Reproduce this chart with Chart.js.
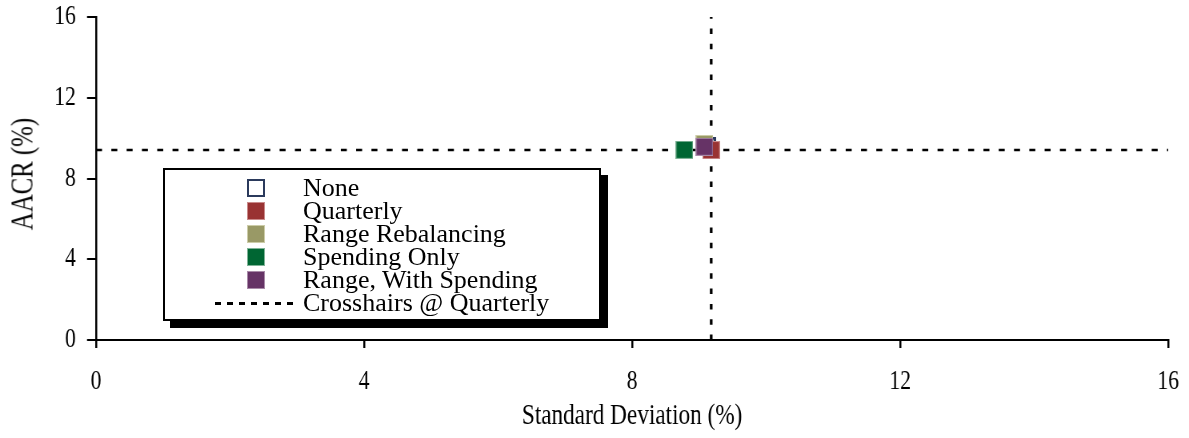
<!DOCTYPE html>
<html>
<head>
<meta charset="utf-8">
<script src="https://cdn.jsdelivr.net/npm/chart.js@4/dist/chart.umd.min.js"></script>
<style>
  body { margin: 0; background: #fff; overflow: hidden; }
  #wrap { position: relative; width: 1189px; height: 438px; overflow: hidden; }
  #ytitle {
    position: absolute; left: 22px; top: 174px; white-space: nowrap;
    font-family: "Liberation Serif", serif; font-size: 31px; line-height: 1;
    transform: translate(-50%, -50%) rotate(-90deg) scaleX(0.8);
  }
  #legend {
    position: absolute; left: 163px; top: 168px; width: 434px; height: 149px;
    border: 2px solid #000; background: #fff; box-shadow: 7px 7px 0 #000;
    font-family: "Liberation Serif", serif; font-size: 26px;
  }
  .row { position: absolute; left: 0; height: 23px; line-height: 23px; white-space: nowrap; }
  .row span.txt { position: absolute; left: 138px; top: 0; }
  .mk { position: absolute; left: 82px; top: 3px; width: 18px; height: 18px; box-sizing: border-box; }
  .dash { position: absolute; left: 50px; top: 11px; width: 84px; height: 3px;
          background: repeating-linear-gradient(to right, #000 0 6px, transparent 6px 12px); }
</style>
</head>
<body>
<div id="wrap">
  <!-- drawn wider and squeezed, so the Times text comes out tall and narrow like the picture -->
  <canvas id="myChart" width="1486" height="438" style="width:1189px;height:438px"></canvas>
  <div id="ytitle">AACR (%)</div>
  <div id="legend"></div>
</div>
<script>
// values
const seriesNames = ['None', 'Quarterly', 'Range Rebalancing', 'Spending Only', 'Range, With Spending'];
const stdDev = [9.12, 9.18, 9.08, 8.78, 9.08];
const aacr = [9.60, 9.41, 9.71, 9.42, 9.57];
const axisTicks = [0, 4, 8, 12, 16];
const crossLabel = 'Crosshairs @ Quarterly';

const fills = ['#ffffff', '#993333', '#999966', '#006633', '#663366'];
const edges = ['#2b3a5c', '#c98a8a', '#cccca8', '#7fb397', '#a88aa8'];
const edgeW = [2.5, 1, 1, 1, 1];
const drawOrder = [4, 3, 2, 1, 0];

const SX = 1486 / 1189; // horizontal squeeze of the canvas

const tickFont = { family: '"Liberation Serif", serif', size: 27 };
const titleFont = { family: '"Liberation Serif", serif', size: 29 };

// crosshairs sit on the Quarterly point
const crossX = stdDev[1];
const crossY = aacr[1];

// square marker, pre-stretched so it ends up square after the squeeze
function makeMarker(fill, edge, w) {
  const c = document.createElement('canvas');
  c.width = Math.round(18 * SX);
  c.height = 18;
  const ctx = c.getContext('2d');
  ctx.scale(c.width / 18, 1);
  ctx.fillStyle = fill;
  ctx.fillRect(0, 0, 18, 18);
  ctx.strokeStyle = edge;
  ctx.lineWidth = w;
  ctx.strokeRect(w / 2, w / 2, 18 - w, 18 - w);
  return c;
}

let datasets = [];
for (let i = 0; i < seriesNames.length; i++) {
  datasets.push({
    type: 'scatter',
    label: seriesNames[i],
    data: [{ x: stdDev[i], y: aacr[i] }],
    pointStyle: makeMarker(fills[i], edges[i], edgeW[i]),
    order: drawOrder[i]
  });
}
datasets.push({
  type: 'line', label: crossLabel,
  data: [{ x: axisTicks[0], y: crossY }, { x: axisTicks[axisTicks.length - 1], y: crossY }],
  borderColor: '#000', borderWidth: 2.6, borderDash: [6 * SX, 9.3 * SX], pointRadius: 0, order: 10
});
datasets.push({
  type: 'line', label: crossLabel,
  data: [{ x: crossX, y: axisTicks[0] }, { x: crossX, y: axisTicks[axisTicks.length - 1] }],
  borderColor: '#000', borderWidth: 2.7 * SX, borderDash: [5.5, 9.8], pointRadius: 0, order: 10
});

const myChart = new Chart(document.getElementById('myChart'), {
  data: { datasets: datasets },
  options: {
    responsive: false,
    animation: false,
    layout: { padding: { left: 0, right: 26, top: 17, bottom: 0 } },
    plugins: { legend: { display: false }, tooltip: { enabled: false } },
    scales: {
      x: {
        type: 'linear', min: 0, max: 16,
        afterBuildTicks: (s) => { s.ticks = axisTicks.map(v => ({ value: v })); },
        afterFit: (s) => { s.height = 98; s.paddingLeft = 0; s.paddingRight = 0; },
        border: { color: '#000', width: 2 },
        grid: { drawOnChartArea: false, drawTicks: true, tickLength: 8, color: '#000', lineWidth: 2 * SX },
        ticks: { color: '#000', font: tickFont, padding: 18, maxRotation: 0 },
        title: { display: true, text: 'Standard Deviation (%)', color: '#000', font: titleFont, padding: { top: 0, bottom: 4 } }
      },
      y: {
        type: 'linear', min: 0, max: 16,
        afterBuildTicks: (s) => { s.ticks = axisTicks.map(v => ({ value: v })); },
        afterFit: (s) => { s.width = 96 * SX; s.paddingTop = 0; s.paddingBottom = 0; },
        border: { color: '#000', width: 2 * SX },
        grid: { drawOnChartArea: false, drawTicks: true, tickLength: 9 * SX, color: '#000', lineWidth: 2 },
        ticks: { color: '#000', font: tickFont, padding: 14 }
      }
    }
  }
});

// legend box with drop shadow
const legendDiv = document.getElementById('legend');
for (let i = 0; i < seriesNames.length; i++) {
  legendDiv.innerHTML += `
    <div class="row" style="top:${6 + i * 23}px">
      <div class="mk" style="background:${fills[i]};border:${edgeW[i]}px solid ${edges[i]}"></div>
      <span class="txt">${seriesNames[i]}</span>
    </div>`;
}
legendDiv.innerHTML += `
  <div class="row" style="top:${6 + seriesNames.length * 23}px">
    <div class="dash"></div>
    <span class="txt">${crossLabel}</span>
  </div>`;
</script>
</body>
</html>
